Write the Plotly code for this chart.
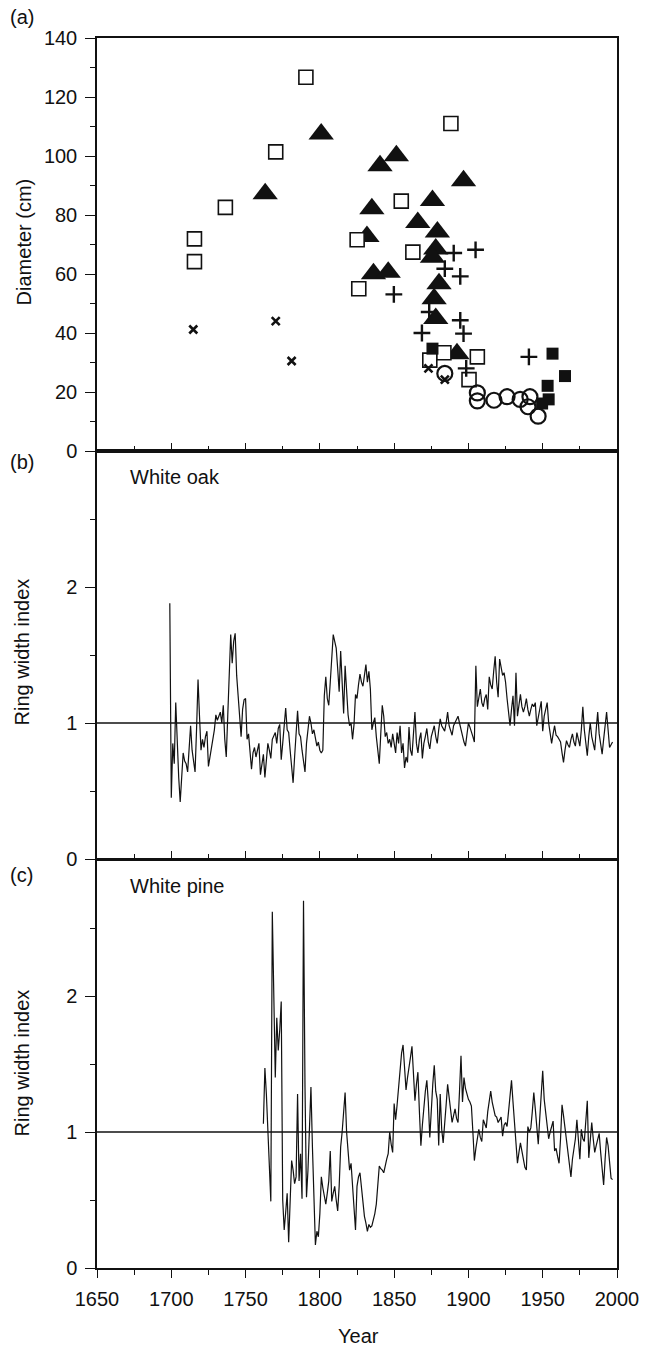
import plotly.graph_objects as go

# ---------------- Panel (a): diameters ----------------
open_sq_year = [1715.6, 1715.6, 1736.4, 1770.3, 1790.6, 1825.1, 1826.2, 1854.8, 1862.6, 1888.2, 1874.0, 1883.5, 1906.0, 1900.4]
open_sq_diam = [71.9, 64.2, 82.6, 101.4, 126.7, 71.6, 55.0, 84.7, 67.4, 111.0, 30.8, 33.3, 31.9, 24.2]

tri_year = [1763.2, 1800.9, 1840.5, 1851.5, 1896.7, 1835.0, 1831.7, 1836.1, 1846.0, 1865.9, 1875.8, 1879.1, 1878.0, 1875.8, 1880.2, 1876.9, 1878.0, 1892.3]
tri_diam = [87.2, 107.5, 96.7, 100.1, 91.6, 82.1, 72.7, 60.1, 60.6, 77.5, 84.9, 74.2, 68.5, 65.7, 56.7, 51.6, 44.9, 33.0]

x_year = [1714.8, 1770.3, 1781.0, 1873.1, 1884.1]
x_diam = [41.2, 44.0, 30.5, 28.0, 24.2]

plus_year = [1890.1, 1904.8, 1884.1, 1894.5, 1849.8, 1894.5, 1896.7, 1868.7, 1898.5, 1940.7, 1873.6]
plus_diam = [67.1, 68.2, 61.8, 59.2, 53.1, 44.3, 39.8, 40.0, 28.0, 31.9, 47.1]

fsq_year = [1875.8, 1956.6, 1953.3, 1965.0, 1954.0, 1949.6]
fsq_diam = [34.7, 33.0, 22.1, 25.4, 17.5, 16.1]

circ_year = [1884.1, 1906.0, 1906.0, 1917.2, 1926.0, 1934.8, 1941.4, 1940.1, 1946.9]
circ_diam = [26.3, 19.7, 17.0, 17.2, 18.4, 17.5, 18.4, 15.0, 11.8]

# ---------------- Panel (b): white oak ring width index ----------------
oak_start = 1699
oak_index = [
    1.88, 0.45, 0.85, 0.70, 1.15, 0.80, 0.60, 0.42, 0.65, 0.78,
    0.72, 0.70, 0.64, 0.80, 0.98, 0.80, 0.72, 0.64, 0.95, 1.32,
    1.05, 0.80, 0.88, 0.82, 0.90, 0.94, 0.68, 0.75, 0.82, 0.88,
    0.95, 1.06, 1.02, 1.05, 1.08, 1.00, 1.13, 0.88, 0.75, 1.05,
    1.30, 1.65, 1.44, 1.60, 1.66, 1.35, 1.20, 1.05, 0.90, 1.10,
    1.17, 1.18, 0.88, 0.92, 0.80, 0.66, 0.78, 0.82, 0.75, 0.80,
    0.85, 0.62, 0.70, 0.77, 0.60, 0.72, 0.85, 0.80, 0.74, 0.88,
    0.90, 0.93, 0.85, 0.96, 0.99, 0.73, 0.85, 0.98, 1.11, 0.95,
    0.93, 0.80, 0.68, 0.56, 0.75, 0.95, 1.09, 0.92, 0.90, 0.80,
    0.72, 0.64, 0.85, 0.95, 1.05, 1.00, 0.92, 0.95, 0.88, 0.83,
    0.86, 0.80, 0.78, 0.80, 1.20, 1.34, 1.18, 1.13, 1.30, 1.45,
    1.65, 1.60, 1.55, 1.40, 1.23, 1.53, 1.30, 1.07, 1.42, 1.25,
    1.06, 0.98, 1.00, 0.88, 0.99, 1.21, 1.18, 1.28, 1.36, 1.30,
    1.27, 1.35, 1.43, 1.30, 1.38, 1.25, 0.95, 1.00, 1.04, 0.90,
    0.80, 0.70, 0.92, 1.13, 1.05, 0.90, 0.93, 0.85, 0.88, 0.82,
    0.92, 0.85, 0.78, 0.93, 0.85, 0.98, 0.78, 0.85, 0.67, 0.75,
    0.71, 0.97, 0.80, 0.76, 0.90, 1.08, 0.85, 0.78, 0.88, 0.93,
    0.74, 0.85, 0.90, 0.96, 0.86, 0.81, 0.90, 0.95, 0.98, 0.90,
    0.85, 0.95, 1.03, 0.98, 0.96, 0.94, 1.00, 1.08, 0.98, 0.95,
    0.91, 0.98, 1.00, 1.02, 1.05, 1.00, 0.95, 0.90, 0.86, 0.83,
    0.92, 1.00, 0.97, 0.94, 0.90, 0.86, 1.42, 1.12, 1.18, 1.25,
    1.15, 1.12, 1.18, 1.21, 1.10, 1.34, 1.28, 1.25, 1.38, 1.49,
    1.30, 1.19, 1.47, 1.40, 1.35, 1.37, 1.30, 1.18, 1.05, 0.98,
    1.10, 1.20, 0.98, 1.37, 1.05, 1.15, 1.21, 1.12, 1.08, 1.12,
    1.18, 1.10, 1.05, 1.10, 1.14, 1.12, 1.15, 0.98, 1.05, 1.10,
    1.16, 0.94, 1.05, 1.10, 1.15, 1.00, 0.90, 0.85, 0.92, 0.98,
    0.91, 0.90, 0.88, 0.86, 0.78, 0.71, 0.80, 0.87, 0.84, 0.82,
    0.88, 0.92, 0.86, 0.83, 0.93, 0.88, 0.83, 0.95, 1.12, 0.95,
    0.85, 0.76, 0.90, 1.00, 0.90, 0.85, 0.80, 0.95, 1.08, 0.92,
    0.85, 0.77, 0.88, 0.98, 1.08, 0.95, 0.82, 0.84, 0.86,
]

# ---------------- Panel (c): white pine ring width index ----------------
pine_start = 1762
pine_index = [
    1.06, 1.47, 1.28, 1.00, 0.75, 0.49, 2.62, 2.00, 1.40, 1.84,
    1.60, 1.75, 1.96, 0.50, 0.28, 0.41, 0.55, 0.19, 0.58, 0.79,
    0.72, 0.62, 0.67, 1.28, 0.64, 0.84, 0.51, 2.70, 1.33, 0.52,
    0.72, 1.00, 1.33, 0.89, 0.45, 0.17, 0.27, 0.23, 0.40, 0.67,
    0.59, 0.52, 0.47, 0.55, 0.64, 0.86, 0.49, 0.55, 0.60, 0.50,
    0.42, 0.60, 0.89, 1.00, 1.15, 1.29, 1.00, 0.85, 0.72, 0.77,
    0.60, 0.45, 0.28, 0.60, 0.67, 0.70, 0.58, 0.44, 0.38, 0.33,
    0.27, 0.32, 0.30, 0.31, 0.35, 0.40, 0.47, 0.60, 0.75, 0.73,
    0.72, 0.70, 0.76, 0.80, 0.84, 1.00, 0.91, 0.85, 1.21, 1.09,
    1.20, 1.35, 1.50, 1.58, 1.64, 1.45, 1.31, 1.40, 1.50, 1.55,
    1.63, 1.40, 1.23, 1.35, 1.44, 1.15, 0.90, 1.05, 1.20, 1.30,
    1.38, 1.22, 0.96, 1.20, 1.35, 1.49, 1.30, 1.24, 0.90, 1.28,
    1.02, 0.92, 1.10, 1.20, 1.35, 1.25, 1.15, 1.07, 1.12, 1.17,
    1.10, 1.07, 1.30, 1.56, 1.22, 1.40, 1.32, 1.27, 1.24, 1.22,
    1.19, 1.00, 0.79, 0.88, 0.95, 1.02, 0.96, 0.93, 1.09, 1.05,
    1.03, 1.15, 1.24, 1.30, 1.22, 1.16, 1.12, 1.11, 1.07, 1.09,
    1.11, 0.97, 1.05, 1.07, 1.04, 1.15, 1.30, 1.38, 1.22, 1.05,
    0.90, 0.77, 0.85, 0.92, 0.86, 0.80, 0.74, 0.72, 1.04, 1.00,
    1.03, 1.15, 1.29, 1.17, 1.05, 0.91, 1.10, 1.30, 1.45, 1.24,
    1.15, 1.05, 0.95, 1.00, 1.04, 1.08, 0.86, 0.88, 0.82, 0.77,
    0.95, 1.20, 1.12, 1.03, 0.95, 0.85, 0.75, 0.67, 0.80, 0.87,
    0.95, 1.09, 0.90, 0.80, 1.02, 0.95, 0.93, 1.05, 1.23, 0.81,
    0.95, 1.07, 0.95, 0.85, 0.90, 0.95, 0.99, 0.85, 0.70, 0.61,
    0.80, 0.96, 0.90, 0.80, 0.66, 0.65,
]

oak_years = [oak_start + i for i in range(len(oak_index))]
pine_years = [pine_start + i for i in range(len(pine_index))]

FONT = "Liberation Sans, Arial, sans-serif"
BLACK = "#111111"

fig = go.Figure()

# panel (a) markers
fig.add_trace(go.Scatter(x=tri_year, y=tri_diam, mode="markers", xaxis="x", yaxis="y",
                         marker=dict(symbol="triangle-up", size=22, color=BLACK, line=dict(width=0))))
fig.add_trace(go.Scatter(x=open_sq_year, y=open_sq_diam, mode="markers", xaxis="x", yaxis="y",
                         marker=dict(symbol="square", size=14, color="white", line=dict(width=1.6, color=BLACK))))
fig.add_trace(go.Scatter(x=fsq_year, y=fsq_diam, mode="markers", xaxis="x", yaxis="y",
                         marker=dict(symbol="square", size=12, color=BLACK, line=dict(width=0))))
fig.add_trace(go.Scatter(x=circ_year, y=circ_diam, mode="markers", xaxis="x", yaxis="y",
                         marker=dict(symbol="circle-open", size=15, color=BLACK, line=dict(width=2.2, color=BLACK))))
fig.add_trace(go.Scatter(x=x_year, y=x_diam, mode="markers", xaxis="x", yaxis="y",
                         marker=dict(symbol="x-thin", size=8, color=BLACK, line=dict(width=2.6, color=BLACK))))
fig.add_trace(go.Scatter(x=plus_year, y=plus_diam, mode="markers", xaxis="x", yaxis="y",
                         marker=dict(symbol="cross-thin", size=12, color=BLACK, line=dict(width=2.4, color=BLACK))))

# panel (b), (c) lines
fig.add_trace(go.Scatter(x=oak_years, y=oak_index, mode="lines", xaxis="x2", yaxis="y2",
                         line=dict(color=BLACK, width=1.2)))
fig.add_trace(go.Scatter(x=pine_years, y=pine_index, mode="lines", xaxis="x3", yaxis="y3",
                         line=dict(color=BLACK, width=1.2)))

# reference lines at index = 1
for xr, yr in (("x2 domain", "y2"), ("x3 domain", "y3")):
    fig.add_shape(type="line", xref=xr, yref=yr, x0=0, x1=1, y0=1, y1=1,
                  line=dict(color=BLACK, width=1.5), layer="below")

# layout geometry (pixels): plot area x 97..627, y 38..1268
L, R, T, B = 97, 24, 38, 78
W, H = 651, 1346
PH = H - T - B


def py(pix):
    return (H - B - pix) / PH


def px(pix):
    return (pix - L) / (W - L - R)


common_x = dict(range=[1650, 2000], tick0=1650, dtick=50, showline=True, mirror=True,
                linecolor=BLACK, linewidth=1.5, showgrid=False, zeroline=False,
                tickcolor=BLACK, tickwidth=1.3)
common_y = dict(showline=True, mirror=True, linecolor=BLACK, linewidth=1.5, showgrid=False,
                zeroline=False, ticks="outside", ticklen=10, tickcolor=BLACK, tickwidth=1.3,
                tickfont=dict(family=FONT, size=20, color=BLACK), ticklabelstandoff=4)

fig.update_layout(
    width=W, height=H, margin=dict(l=L, r=R, t=T, b=B),
    paper_bgcolor="white", plot_bgcolor="white", showlegend=False,
    font=dict(family=FONT, size=20, color=BLACK),
    xaxis=dict(**common_x, anchor="y", domain=[0, 1], ticks="inside", ticklen=8, showticklabels=False,
               minor=dict(dtick=25, tick0=1650, ticks="inside", ticklen=5, tickcolor=BLACK, tickwidth=1.2)),
    xaxis2=dict(**common_x, anchor="y2", domain=[0, 1], ticks="inside", ticklen=8, showticklabels=False,
                minor=dict(dtick=25, tick0=1650, ticks="inside", ticklen=5, tickcolor=BLACK, tickwidth=1.2)),
    xaxis3=dict(**common_x, anchor="y3", domain=[0, 1], ticks="outside", ticklen=8,
                tickfont=dict(family=FONT, size=20, color=BLACK), ticklabelstandoff=4,
                minor=dict(dtick=25, tick0=1650, ticks="outside", ticklen=5, tickcolor=BLACK, tickwidth=1.2)),
    yaxis=dict(**common_y, domain=[py(451), 1], range=[0, 140], tick0=0, dtick=20,
               minor=dict(dtick=10, tick0=0, ticks="outside", ticklen=5, tickcolor=BLACK, tickwidth=1.2)),
    yaxis2=dict(**common_y, domain=[py(859), py(451)], range=[0, 3], tickvals=[0, 1, 2],
                minor=dict(tickvals=[0.5, 1.5, 2.5], ticks="outside", ticklen=5, tickcolor=BLACK, tickwidth=1.2)),
    yaxis3=dict(**common_y, domain=[0, py(860)], range=[0, 3], tickvals=[0, 1, 2],
                minor=dict(tickvals=[0.5, 1.5, 2.5], ticks="outside", ticklen=5, tickcolor=BLACK, tickwidth=1.2)),
)

ann = [
    ("(a)", 6, 17, 0, "left", 20),
    ("(b)", 6, 462, 0, "left", 20),
    ("(c)", 6, 875, 0, "left", 20),
    ("Diameter (cm)", 23, 242, -90, "center", 20),
    ("Ring width index", 21, 652, -90, "center", 20),
    ("Ring width index", 21, 1063, -90, "center", 20),
    ("White oak", 129, 477, 0, "left", 20),
    ("White pine", 129, 886, 0, "left", 20),
    ("Year", 364, 1336, 0, "center", 20),
]
for text, x_pix, y_pix, ang, align, size in ann:
    fig.add_annotation(text=text, xref="paper", yref="paper", x=px(x_pix), y=py(y_pix),
                       xanchor=align, yanchor="middle", showarrow=False, textangle=ang,
                       font=dict(family=FONT, size=size, color=BLACK))

fig.write_html("out.html")
